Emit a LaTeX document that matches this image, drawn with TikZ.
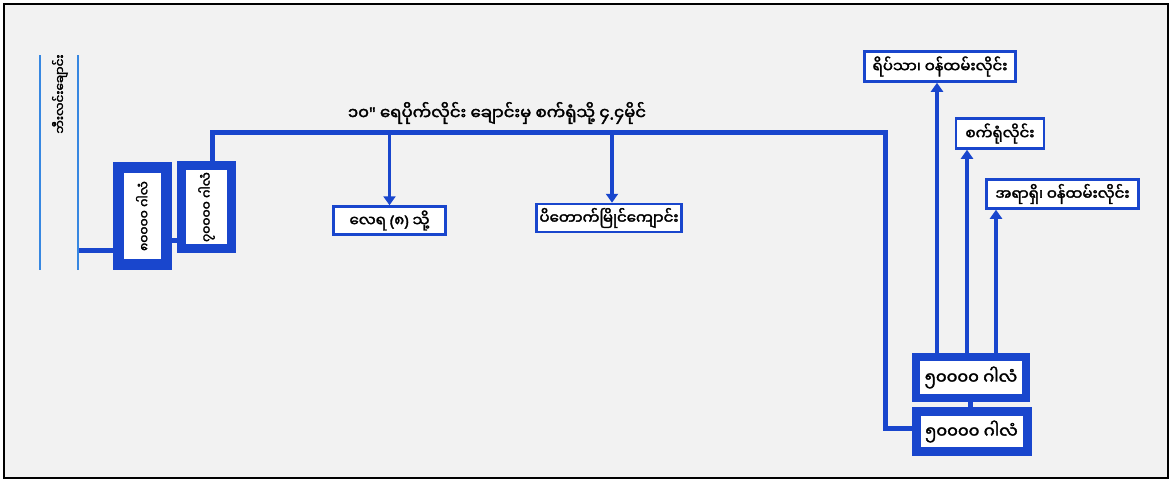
\documentclass[tikz,border=0pt]{standalone}
\usepackage{fontspec}
\newfontfamily\mm[Script=Myanmar,FakeBold=2.2]{Noto Sans Myanmar UI}
\newfontfamily\lat[FakeBold=2.2]{Noto Sans}
\usetikzlibrary{arrows.meta}
\definecolor{pipeblue}{RGB}{25,70,205}
\definecolor{riverblue}{RGB}{55,135,225}
\definecolor{bgc}{RGB}{242,242,242}
\pgfdeclarelayer{back}
\pgfdeclarelayer{pipes}
\pgfsetlayers{back,pipes,main}
\tikzset{
  pipe/.style={draw=pipeblue, line width=5pt},
  arr/.style={draw=pipeblue, line width=3.5pt, -{Triangle[length=9pt,width=12pt]}},
  river/.style={draw=riverblue, line width=2.5pt},
  lbox/.style={draw=pipeblue, line width=2.5pt, fill=white, inner sep=0pt, font=\mm\fontsize{15}{17}\selectfont},
  tank/.style={draw=pipeblue, fill=white, inner sep=0pt, font=\mm\fontsize{16.5}{18}\selectfont},
  vtank/.style={draw=pipeblue, fill=white, inner sep=0pt, rotate=90, font=\mm\fontsize{12.5}{14}\selectfont},
  txt/.style={inner sep=0pt, font=\mm\fontsize{16.5}{18}\selectfont}
}
\begin{document}
\begin{tikzpicture}[x=1pt,y=-1pt]
\useasboundingbox (0,0) rectangle (1172,482);
\begin{pgfonlayer}{back}
\fill[white] (0,0) rectangle (1172,482);
\draw[line width=2pt, fill=bgc] (4,4) rectangle (1168,478);
\end{pgfonlayer}
% river
\coordinate (r1a) at (40,55); \coordinate (r1b) at (40,270);
\coordinate (r2a) at (78,55); \coordinate (r2b) at (78,270);
\draw[river] (r1a) -- (r1b);
\draw[river] (r2a) -- (r2b);
\node[txt, rotate=90, font=\mm\fontsize{12}{14}\selectfont] (rivname) at (60,94) {ဘီးလင်းချောင်း};
% tanks
\node[vtank, line width=11pt, minimum width=97pt, minimum height=48pt] (t1) at (142.5,216) {၈၀၀၀၀ ဂါလံ};
\node[vtank, line width=9pt, minimum width=83pt, minimum height=50pt] (t2) at (206.5,207) {၇၀၀၀၀ ဂါလံ};
\node[tank, line width=8pt, minimum width=110pt, minimum height=41pt] (t3) at (971,377.5) {၅၀၀၀၀ ဂါလံ};
\node[tank, line width=9pt, minimum width=111pt, minimum height=40pt] (t4) at (971.5,431.5) {၅၀၀၀၀ ဂါလံ};
% label boxes
\node[lbox, minimum width=112pt, minimum height=28pt] (b1) at (389.5,220.5) {လေရ {\lat(}၈{\lat)} သို့};
\node[lbox, minimum width=145pt, minimum height=28pt] (b2) at (609,218) {ပိတောက်မြိုင်ကျောင်း};
\node[lbox, minimum width=151pt, minimum height=30pt] (b3) at (940,66.5) {ရိပ်သာ၊ ဝန်ထမ်းလိုင်း};
\node[lbox, minimum width=88pt, minimum height=30pt] (b4) at (1000,133.5) {စက်ရုံလိုင်း};
\node[lbox, minimum width=152pt, minimum height=29pt] (b5) at (1062.5,194) {အရာရှိ၊ ဝန်ထမ်းလိုင်း};
% pipe label
\node[txt] (plabel) at (497,113) {၁၀{\lat"} ရေပိုက်လိုင်း ချောင်းမှ စက်ရုံသို့ ၄{\lat.}၄မိုင်};
% pipes
\begin{pgfonlayer}{pipes}
\coordinate (rivout) at (78,250);
\draw[pipe] (rivout) -- (rivout -| t1.center);
\coordinate (c12) at (0,240);
\draw[pipe] (c12 -| t1.center) -- (c12 -| t2.center);
\coordinate (mx) at (212,0);
\coordinate (my) at (0,132);
\coordinate (rx) at (885,0);
\coordinate (ly) at (0,428);
\draw[pipe, line join=miter] (mx |- t2.center) -- (mx |- my) -- (rx |- my) -- (rx |- ly) -- (ly -| t4.center);
\coordinate (c34) at (970,0);
\draw[pipe] (c34 |- t3.center) -- (c34 |- t4.center);
\end{pgfonlayer}
\draw[arr] (b1.north |- my) -- (b1.north);
\coordinate (a2) at (612,0);
\draw[arr] (a2 |- my) -- (a2 |- b2.north);
% outlets
\coordinate (o1) at (937,0);
\coordinate (o2) at (967,0);
\coordinate (o3) at (996,0);
\draw[arr] (o1 |- t3.north) -- (o1 |- b3.south);
\draw[arr] (o2 |- t3.north) -- (o2 |- b4.south);
\draw[arr] (o3 |- t3.north) -- (o3 |- b5.south);
\end{tikzpicture}
\end{document}
